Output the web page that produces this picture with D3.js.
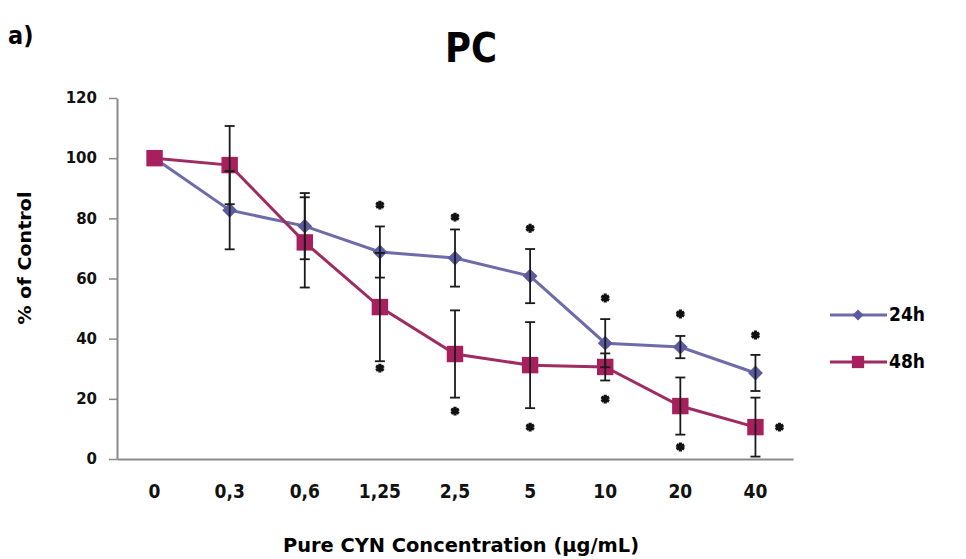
<!DOCTYPE html>
<html>
<head>
<meta charset="utf-8">
<script src="https://cdn.jsdelivr.net/npm/d3@7"></script>
<style>
  body { margin: 0; background: #fff; }
  svg { display: block; }
</style>
</head>
<body>
<svg id="drawing_region"></svg>
<script>
// concentrations (category labels) and % of control per series
const categories = ['0', '0,3', '0,6', '1,25', '2,5', '5', '10', '20', '40'];
const values24h = [100, 82.7, 77.4, 68.8, 66.8, 60.8, 38.5, 37.2, 28.6];
const errors24h = [0, 13, 11, 8.5, 9.5, 9, 8, 3.7, 6];
const values48h = [100, 97.7, 72, 50.5, 34.9, 31.2, 30.6, 17.6, 10.6];
const errors48h = [0, 13, 15, 18, 14.5, 14.3, 4.5, 9.5, 9.8];
// significance stars (value where the star sits, null = none)
const stars24h = [null, null, null, 84.4, 80.4, 76.7, 53.5, 48.2, 41.2];
const stars48h = [null, null, null, 30.2, 15.9, 10.6, 19.9, 4.0, 10.6];
const stars48hBeside = [false, false, false, false, false, false, false, false, true];
const yTicks = [0, 20, 40, 60, 80, 100, 120];
const seriesNames = ['24h', '48h'];

const config = {
    parent: '#drawing_region',
    width: 966,
    height: 559,
    plot: { left: 117, right: 793, top: 98, bottom: 459 }
};

const color24 = '#6d6ca9', mark24 = '#5c5b9f';
const color48 = '#9e2c62', mark48 = '#a81f5e';
const narrow = '"Liberation Sans Narrow", "DejaVu Sans Condensed", "Liberation Sans", sans-serif';

const svg = d3.select(config.parent)
    .attr('width', config.width)
    .attr('height', config.height);

const xscale = d3.scaleBand()
    .domain(categories)
    .range([config.plot.left, config.plot.right]);

const yscale = d3.scaleLinear()
    .domain([0, 120])
    .range([config.plot.bottom, config.plot.top]);

const cx = c => xscale(c) + xscale.bandwidth() / 2;

// y axis
const yaxis = d3.axisLeft(yscale)
    .tickValues(yTicks)
    .tickSize(8)
    .tickSizeOuter(0)
    .tickPadding(12);

const yg = svg.append('g')
    .attr('transform', `translate(${config.plot.left},0)`)
    .call(yaxis);
yg.select('.domain').attr('stroke', '#8a8a8a').attr('stroke-width', 2);
yg.selectAll('.tick line').attr('stroke', '#8a8a8a').attr('stroke-width', 1.5);
yg.selectAll('.tick text')
    .attr('fill', '#111')
    .style('font-family', '"DejaVu Sans", sans-serif')
    .style('font-weight', 'bold')
    .style('font-size', '15px');

// x axis
const xaxis = d3.axisBottom(xscale)
    .tickSize(0)
    .tickSizeOuter(0)
    .tickPadding(26);

const xg = svg.append('g')
    .attr('transform', `translate(0,${config.plot.bottom})`)
    .call(xaxis);
xg.select('.domain').attr('stroke', '#8a8a8a').attr('stroke-width', 2);
xg.selectAll('.tick text')
    .attr('fill', '#111')
    .style('font-family', narrow)
    .style('font-weight', 'bold')
    .style('font-size', '19px');

// titles
svg.append('text')
    .attr('x', 8).attr('y', 44)
    .style('font-family', narrow)
    .style('font-weight', 'bold')
    .style('font-size', '25px')
    .text('a)');

svg.append('text')
    .attr('x', 471).attr('y', 62)
    .attr('text-anchor', 'middle')
    .attr('textLength', 52)
    .attr('lengthAdjust', 'spacingAndGlyphs')
    .style('font-family', narrow)
    .style('font-weight', 'bold')
    .style('font-size', '40px')
    .text('PC');

svg.append('text')
    .attr('x', 461).attr('y', 552)
    .attr('text-anchor', 'middle')
    .attr('textLength', 356)
    .attr('lengthAdjust', 'spacingAndGlyphs')
    .style('font-family', narrow)
    .style('font-weight', 'bold')
    .style('font-size', '19px')
    .text('Pure CYN Concentration (µg/mL)');

svg.append('text')
    .attr('transform', 'translate(31,258) rotate(-90)')
    .attr('text-anchor', 'middle')
    .attr('textLength', 133)
    .attr('lengthAdjust', 'spacingAndGlyphs')
    .style('font-family', narrow)
    .style('font-weight', 'bold')
    .style('font-size', '18px')
    .text('% of Control');

// series
const series = [
    { name: seriesNames[0], values: values24h, errors: errors24h, line: color24, mark: mark24, shape: 'diamond' },
    { name: seriesNames[1], values: values48h, errors: errors48h, line: color48, mark: mark48, shape: 'square' }
];

const line = d3.line()
    .x((d, i) => cx(categories[i]))
    .y(d => yscale(d));

const diamond = d3.symbol().type(d3.symbolSquare).size(110);
const square = d3.symbol().type(d3.symbolSquare).size(270);

series.forEach(s => {
    svg.append('path')
        .datum(s.values)
        .attr('fill', 'none')
        .attr('stroke', s.line)
        .attr('stroke-width', 3)
        .attr('d', line);
});

series.forEach(s => {
    svg.append('g').selectAll('path')
        .data(s.values)
        .join('path')
        .attr('transform', (d, i) => `translate(${cx(categories[i])},${yscale(d)})` + (s.shape === 'diamond' ? ' rotate(45)' : ''))
        .attr('d', s.shape === 'diamond' ? diamond : square)
        .attr('fill', s.mark);
});

// error bars
const capHalf = 5;
series.forEach(s => {
    const eg = svg.append('g')
        .attr('stroke', '#1a1a1a')
        .attr('stroke-width', 1.8);
    s.values.forEach((v, i) => {
        const e = s.errors[i];
        if (!e) return;
        const x = cx(categories[i]);
        const y0 = yscale(v - e), y1 = yscale(v + e);
        eg.append('line').attr('x1', x).attr('x2', x).attr('y1', y0).attr('y2', y1);
        eg.append('line').attr('x1', x - capHalf).attr('x2', x + capHalf).attr('y1', y0).attr('y2', y0);
        eg.append('line').attr('x1', x - capHalf).attr('x2', x + capHalf).attr('y1', y1).attr('y2', y1);
    });
});

// significance stars
const star = d3.symbol().type(d3.symbolAsterisk).size(55);
const starData = [];
stars24h.forEach((v, i) => { if (v !== null) starData.push({ c: categories[i], v: v, beside: false }); });
stars48h.forEach((v, i) => { if (v !== null) starData.push({ c: categories[i], v: v, beside: stars48hBeside[i] }); });

svg.append('g').selectAll('path')
    .data(starData)
    .join('path')
    .attr('transform', d => `translate(${cx(d.c) + (d.beside ? 24 : 0)},${yscale(d.v)})`)
    .attr('d', star)
    .attr('fill', 'none')
    .attr('stroke', '#111')
    .attr('stroke-width', 3.2);

// legend
const legend = svg.append('g');
series.forEach((s, i) => {
    const y = 315 + i * 47;
    legend.append('line')
        .attr('x1', 830).attr('x2', 887)
        .attr('y1', y).attr('y2', y)
        .attr('stroke', s.line)
        .attr('stroke-width', 3);
    legend.append('path')
        .attr('transform', `translate(858,${y})` + (s.shape === 'diamond' ? ' rotate(45)' : ''))
        .attr('d', s.shape === 'diamond' ? d3.symbol().type(d3.symbolSquare).size(60) : d3.symbol().type(d3.symbolSquare).size(150))
        .attr('fill', s.mark);
    legend.append('text')
        .attr('x', 889).attr('y', y + 6)
        .style('font-family', narrow)
        .style('font-weight', 'bold')
        .style('font-size', '19px')
        .text(s.name);
});
</script>
</body>
</html>
